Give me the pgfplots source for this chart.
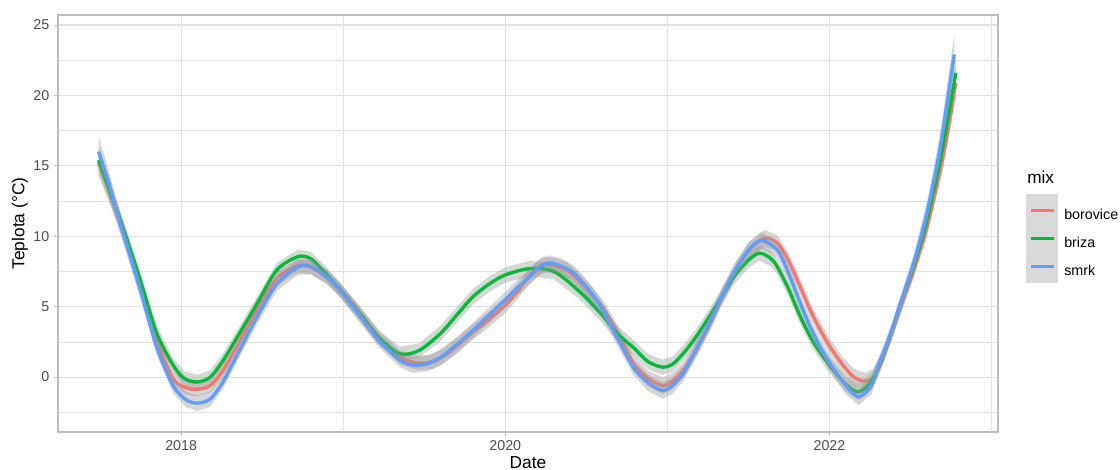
\documentclass[border=0pt]{standalone}
\usepackage{fontspec}
\setmainfont{Liberation Sans}
\usepackage{pgfplots}
\pgfplotsset{compat=1.18}
\usepackage{pgfplotstable}
\definecolor{cred}{HTML}{F8766D}
\definecolor{cgreen}{HTML}{00BA38}
\definecolor{cblue}{HTML}{619CFF}
\definecolor{grey87}{HTML}{E2E2E2}
\definecolor{grey70}{HTML}{BDBDBD}
\definecolor{grey30}{HTML}{4D4D4D}
\definecolor{bandgrey}{HTML}{999999}
\definecolor{keygrey}{HTML}{D9D9D9}

\pgfplotstableread{
x y s
2017.49 15.2 0.9
2017.55 13.4 0.8
2017.64 10.4 0.65
2017.75 6.4 0.55
2017.85 2.6 0.5
2017.95 -0.1 0.5
2018.03 -0.75 0.5
2018.10 -0.87 0.5
2018.18 -0.6 0.5
2018.26 0.5 0.5
2018.36 2.5 0.5
2018.47 4.8 0.5
2018.59 7.0 0.5
2018.72 7.9 0.5
2018.80 7.8 0.5
2018.90 7.1 0.5
2018.98 6.2 0.5
2019.10 4.6 0.5
2019.22 2.8 0.5
2019.35 1.4 0.5
2019.46 1.0 0.5
2019.55 1.1 0.55
2019.62 1.5 0.55
2019.70 2.2 0.55
2019.80 3.2 0.55
2019.90 4.1 0.55
2020.00 5.1 0.55
2020.07 6.0 0.55
2020.15 7.2 0.55
2020.23 8.0 0.55
2020.30 7.9 0.55
2020.38 7.6 0.55
2020.46 6.8 0.55
2020.54 5.8 0.55
2020.62 4.6 0.55
2020.70 3.0 0.55
2020.79 1.0 0.55
2020.88 -0.1 0.55
2020.97 -0.6 0.6
2021.03 -0.3 0.6
2021.10 0.5 0.55
2021.18 2.0 0.55
2021.27 4.0 0.55
2021.34 5.8 0.55
2021.41 7.4 0.55
2021.50 9.0 0.55
2021.60 9.85 0.6
2021.68 9.5 0.55
2021.75 8.2 0.55
2021.82 6.4 0.55
2021.90 4.3 0.55
2021.99 2.4 0.55
2022.08 0.9 0.55
2022.15 0.0 0.6
2022.22 -0.3 0.6
2022.27 0.0 0.6
2022.32 1.1 0.55
2022.38 3.0 0.55
2022.44 5.0 0.55
2022.52 7.6 0.6
2022.60 10.6 0.7
2022.70 15.6 0.9
2022.78 20.9 1.1
}\borovice

\pgfplotstableread{
x y s
2017.49 15.4 0.9
2017.55 13.5 0.8
2017.64 10.65 0.65
2017.75 6.8 0.55
2017.85 3.1 0.5
2017.95 0.85 0.5
2018.02 -0.1 0.5
2018.10 -0.35 0.5
2018.18 0.0 0.5
2018.26 1.2 0.5
2018.36 3.1 0.5
2018.47 5.25 0.5
2018.59 7.6 0.5
2018.72 8.55 0.5
2018.80 8.4 0.5
2018.88 7.5 0.5
2018.98 6.2 0.5
2019.10 4.5 0.5
2019.22 2.8 0.5
2019.35 1.65 0.5
2019.47 1.9 0.5
2019.60 3.1 0.55
2019.70 4.4 0.55
2019.80 5.7 0.55
2019.90 6.6 0.55
2020.00 7.25 0.55
2020.15 7.7 0.55
2020.30 7.5 0.55
2020.46 6.05 0.55
2020.59 4.5 0.55
2020.69 3.1 0.55
2020.79 2.1 0.55
2020.88 1.1 0.55
2020.97 0.7 0.55
2021.03 0.9 0.55
2021.10 1.7 0.55
2021.18 2.9 0.55
2021.27 4.5 0.55
2021.34 5.8 0.55
2021.41 7.1 0.55
2021.50 8.3 0.55
2021.57 8.8 0.55
2021.64 8.4 0.55
2021.68 7.8 0.55
2021.75 6.2 0.55
2021.82 4.3 0.55
2021.90 2.5 0.55
2021.99 1.0 0.55
2022.10 -0.5 0.55
2022.18 -1.05 0.6
2022.26 -0.3 0.6
2022.32 1.2 0.55
2022.38 3.1 0.55
2022.44 5.25 0.55
2022.52 7.9 0.6
2022.60 11.1 0.7
2022.69 15.8 0.9
2022.78 21.6 1.1
}\briza

\pgfplotstableread{
x y s
2017.49 16.0 1.1
2017.55 13.9 0.9
2017.64 10.3 0.7
2017.75 6.1 0.6
2017.85 2.1 0.55
2017.95 -0.6 0.55
2018.03 -1.6 0.55
2018.10 -1.85 0.55
2018.18 -1.55 0.55
2018.26 -0.3 0.5
2018.36 1.9 0.5
2018.47 4.3 0.5
2018.59 6.6 0.5
2018.72 7.8 0.55
2018.80 7.85 0.55
2018.90 7.1 0.5
2018.98 6.2 0.5
2019.10 4.4 0.5
2019.22 2.6 0.5
2019.35 1.2 0.5
2019.43 0.85 0.55
2019.52 0.95 0.55
2019.60 1.4 0.55
2019.70 2.3 0.55
2019.80 3.3 0.55
2019.90 4.4 0.55
2020.00 5.5 0.55
2020.07 6.3 0.55
2020.14 7.0 0.55
2020.21 7.8 0.55
2020.27 8.1 0.55
2020.34 7.9 0.55
2020.42 7.4 0.55
2020.50 6.4 0.55
2020.59 5.0 0.55
2020.69 2.8 0.55
2020.79 0.7 0.55
2020.88 -0.4 0.6
2020.97 -0.95 0.6
2021.03 -0.6 0.6
2021.10 0.3 0.55
2021.18 2.0 0.55
2021.27 4.05 0.55
2021.34 5.8 0.55
2021.41 7.4 0.55
2021.50 9.0 0.55
2021.58 9.7 0.6
2021.68 9.0 0.55
2021.75 7.3 0.55
2021.82 5.25 0.55
2021.90 3.1 0.55
2021.99 1.2 0.55
2022.10 -0.6 0.6
2022.18 -1.4 0.6
2022.26 -0.6 0.6
2022.31 1.0 0.55
2022.38 3.1 0.55
2022.44 5.25 0.55
2022.52 8.1 0.6
2022.60 11.6 0.75
2022.68 16.1 0.95
2022.77 22.9 1.35
}\smrk

% band outlines: upper edge forwards, lower edge backwards
\newcommand\makeband[2]{%
  \pgfplotstablesort[sort key=x, sort cmp={float <}]{#2}{#1}%
  \pgfplotstablesort[sort key=x, sort cmp={float >}]{\tmprev}{#1}%
  \pgfplotstablecreatecol[expr={\thisrow{y}+\thisrow{s}}]{b}{#2}%
  \pgfplotstablecreatecol[expr={\thisrow{y}-\thisrow{s}}]{b}{\tmprev}%
  \pgfplotstablevertcat{#2}{\tmprev}%
}
\makeband{\borovice}{\boroviceband}
\makeband{\briza}{\brizaband}
\makeband{\smrk}{\smrkband}

\begin{document}
\begin{tikzpicture}
\useasboundingbox (-43.5pt,-28.5pt) rectangle (796.5pt,324pt);
\begin{axis}[
  at={(0pt,0pt)}, anchor=south west,
  scale only axis, width=705pt, height=312.75pt,
  clip mode=individual,
  xmin=2017.24, xmax=2023.04, ymin=-3.9, ymax=25.71,
  xtick={2018,2020,2022}, minor xtick={2017,2019,2021,2023},
  ytick={0,5,10,15,20,25}, minor ytick={-2.5,2.5,7.5,12.5,17.5,22.5},
  grid=both,
  major grid style={draw=grey87, line width=0.8pt},
  minor grid style={draw=grey87, line width=0.45pt},
  axis line style={draw=grey70, line width=0.8pt},
  tick style={draw=grey70, line width=0.6pt},
  tick align=outside, major tick length=3pt, minor tick length=0pt,
  xtick pos=bottom, ytick pos=left,
  /pgf/number format/assume math mode=true,
  x tick label style={/pgf/number format/1000 sep={}},
  tick label style={font=\fontsize{10.7}{12}\selectfont, text=grey30},
  xlabel={Date}, ylabel={Teplota (°C)},
  label style={font=\fontsize{13}{15}\selectfont},
  xlabel style={at={(axis description cs:0.5,0)}, anchor=base, yshift=-27.3pt},
  ylabel style={at={(axis description cs:0,0.5)}, anchor=center, rotate=0, yshift=28.5pt},
  legend style={at={(axis description cs:1.0298,0.5707)}, anchor=north west,
    draw=none, fill=none, inner sep=0pt, row sep=-3.4pt, column sep=5pt,
    font=\fontsize{10.7}{12}\selectfont, nodes={inner sep=0pt}},
  legend cell align=left,
  legend image code/.code={
    \fill[keygrey] (0pt,-7.6pt) rectangle (21pt,14.4pt);
    \draw[#1, line width=2.25pt] (2.25pt,3.5pt) -- (19.5pt,3.5pt);
  },
]
% borovice
\addplot[fill=bandgrey, fill opacity=0.4, draw=none, forget plot] table[x=x, y=b] {\boroviceband} -- cycle;
\addplot[cred, line width=2.5pt, smooth] table[x=x, y=y] {\borovice};
\addlegendentry{borovice}
% briza
\addplot[fill=bandgrey, fill opacity=0.4, draw=none, forget plot] table[x=x, y=b] {\brizaband} -- cycle;
\addplot[cgreen, line width=2.5pt, smooth] table[x=x, y=y] {\briza};
\addlegendentry{briza}
% smrk
\addplot[fill=bandgrey, fill opacity=0.4, draw=none, forget plot] table[x=x, y=b] {\smrkband} -- cycle;
\addplot[cblue, line width=2.5pt, smooth] table[x=x, y=y] {\smrk};
\addlegendentry{smrk}
\node[anchor=base west, font=\fontsize{12.9}{15}\selectfont, inner sep=0pt] at (axis description cs:1.0309,0.5971) {mix};
\end{axis}
\end{tikzpicture}
\end{document}
